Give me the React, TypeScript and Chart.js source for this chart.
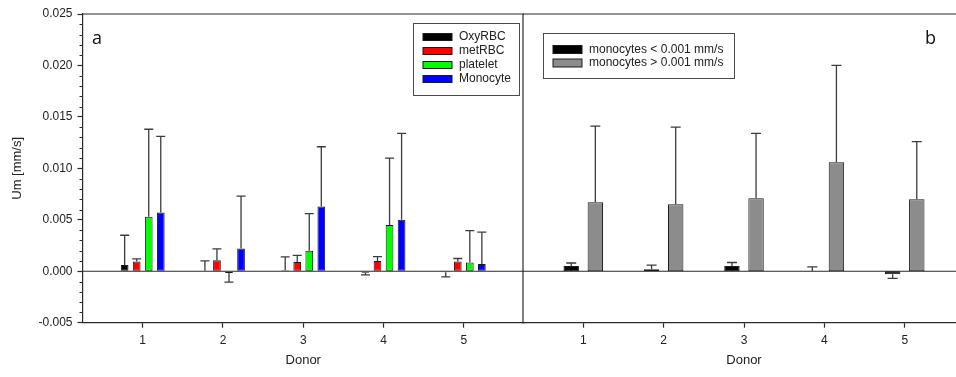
import React, { useEffect, useRef } from 'react';
import { Chart, registerables } from 'chart.js';

Chart.register(...registerables);

// ---------- data ----------
const donors = [1, 2, 3, 4, 5];
const xTickValues = [1, 2, 3, 4, 5];
const yTickLabels = ['-0.005', '0.000', '0.005', '0.010', '0.015', '0.020', '0.025'];

const oxyRBC = [0.0006, 0.00005, 0.0001, -0.00015, -0.0001];
const oxyRBCErr = [0.0029, 0.00095, 0.0013, 0.0002, 0.00045];
const metRBC = [0.00095, 0.00107, 0.0009, 0.001, 0.00094];
const metRBCErr = [0.00025, 0.0011, 0.00065, 0.00043, 0.0003];
const platelet = [0.0053, -0.00016, 0.002, 0.0045, 0.00084];
const plateletErr = [0.0085, 0.0009, 0.0036, 0.0065, 0.0031];
const monocyte = [0.0057, 0.0022, 0.0063, 0.005, 0.0007];
const monocyteErr = [0.0074, 0.0051, 0.0058, 0.0084, 0.0031];

const slowMono = [0.0005, 0.0002, 0.0005, 0.00002, -0.0003];
const slowMonoErr = [0.0003, 0.0004, 0.00035, 0.0004, 0.0004];
const fastMono = [0.0067, 0.0065, 0.0071, 0.0106, 0.007];
const fastMonoErr = [0.0074, 0.0075, 0.0063, 0.0094, 0.0056];

const leftLabels = ['OxyRBC', 'metRBC', 'platelet', 'Monocyte'];
const leftColors = ['#000000', '#ff0000', '#00ff00', '#0000ff'];
const rightLabels = ['monocytes < 0.001 mm/s', 'monocytes > 0.001 mm/s'];
const rightColors = ['#000000', '#8c8c8c'];

// ---------- styling ----------
const FONT = '"Liberation Sans", Arial, sans-serif';
const AXIS = '#2a2a2a';
const TEXT = '#222222';
const Y_MIN = -0.005;
const Y_MAX = 0.025;

const toPts = (vals: number[]) => donors.map((d, i) => ({ x: d, y: vals[i] }));

function makeDataset(label: string, vals: number[], color: string) {
  return {
    label,
    data: toPts(vals),
    backgroundColor: color,
    borderColor: '#1a1a1a',
    borderWidth: 1,
    borderSkipped: false as const,
    categoryPercentage: 0.6,
    barPercentage: 0.64,
  };
}

function errorBarPlugin(errs: number[][], cap: number) {
  return {
    id: 'errbars',
    afterDatasetsDraw(chart: any) {
      const ctx = chart.ctx;
      const ys = chart.scales.y;
      ctx.save();
      ctx.strokeStyle = '#3c3c3c';
      ctx.lineWidth = 1.3;
      chart.data.datasets.forEach((ds: any, i: number) => {
        const meta = chart.getDatasetMeta(i);
        meta.data.forEach((el: any, j: number) => {
          const v = ds.data[j].y;
          const e = errs[i][j];
          const end = v >= 0 ? v + e : v - e;
          const y0 = ys.getPixelForValue(v);
          const y1 = ys.getPixelForValue(end);
          ctx.beginPath();
          ctx.moveTo(el.x, y0);
          ctx.lineTo(el.x, y1);
          ctx.moveTo(el.x - cap / 2, y1);
          ctx.lineTo(el.x + cap / 2, y1);
          ctx.stroke();
        });
      });
      ctx.restore();
    },
  };
}

type LegendSpec = {
  dx: number; // box left relative to chartArea left
  dy: number; // box top relative to chartArea top
  w: number;
  h: number;
  labels: string[];
  colors: string[];
  rowStart: number;
  rowGap: number;
  swH: number;
};

function decorPlugin(opts: {
  side: 'left' | 'right';
  letter: string;
  letterDx: number;
  legend: LegendSpec;
}) {
  return {
    id: 'decor',
    beforeDatasetsDraw(chart: any) {
      const { ctx, chartArea } = chart;
      const ys = chart.scales.y;
      const y0 = ys.getPixelForValue(0);
      ctx.save();
      ctx.strokeStyle = AXIS;
      ctx.lineWidth = 1.2;
      ctx.beginPath();
      ctx.moveTo(chartArea.left, y0);
      ctx.lineTo(chartArea.right, y0);
      ctx.stroke();
      ctx.restore();
    },
    afterDraw(chart: any) {
      const { ctx, chartArea } = chart;
      const ys = chart.scales.y;
      ctx.save();
      ctx.strokeStyle = AXIS;
      ctx.lineWidth = 1.2;
      // top frame line
      ctx.beginPath();
      ctx.moveTo(chartArea.left, chartArea.top);
      ctx.lineTo(chartArea.right, chartArea.top);
      ctx.stroke();
      // divider (drawn once, by the right panel)
      if (opts.side === 'right') {
        ctx.beginPath();
        ctx.moveTo(chartArea.left, chartArea.top);
        ctx.lineTo(chartArea.left, chartArea.bottom);
        ctx.stroke();
      }
      // minor ticks on left axis
      if (opts.side === 'left') {
        ctx.lineWidth = 1;
        for (let k = -4; k <= 24; k++) {
          if (k % 5 === 0) continue;
          const py = Math.round(ys.getPixelForValue(k / 1000)) + 0.5;
          ctx.beginPath();
          ctx.moveTo(chartArea.left, py);
          ctx.lineTo(chartArea.left - 3, py);
          ctx.stroke();
        }
      }
      // legend
      const L = opts.legend;
      const bx = chartArea.left + L.dx;
      const by = chartArea.top + L.dy;
      ctx.fillStyle = '#ffffff';
      ctx.fillRect(bx, by, L.w, L.h);
      ctx.strokeStyle = '#4a4a4a';
      ctx.lineWidth = 1;
      ctx.strokeRect(Math.round(bx) + 0.5, Math.round(by) + 0.5, L.w, L.h);
      ctx.font = `12px ${FONT}`;
      ctx.textBaseline = 'middle';
      ctx.textAlign = 'left';
      L.labels.forEach((lab, i) => {
        const cy = by + L.rowStart + i * L.rowGap;
        ctx.fillStyle = L.colors[i];
        ctx.fillRect(bx + 10, cy - L.swH / 2, 29, L.swH);
        ctx.strokeStyle = '#1a1a1a';
        ctx.strokeRect(bx + 10, cy - L.swH / 2, 29, L.swH);
        ctx.fillStyle = TEXT;
        ctx.fillText(lab, bx + 46, cy);
      });
      // panel letter
      ctx.fillStyle = '#111';
      ctx.font = `18px "Open Sans", ${FONT}`;
      ctx.textBaseline = 'alphabetic';
      ctx.fillText(opts.letter, chartArea.left + opts.letterDx, chartArea.top + 30);
      ctx.restore();
    },
  };
}

function xScale(showTitle: boolean) {
  return {
    type: 'linear' as const,
    min: 0.25,
    max: 5.75,
    offset: false,
    afterBuildTicks: (s: any) => {
      s.ticks = xTickValues.map((v) => ({ value: v }));
    },
    afterFit: (s: any) => {
      s.height = 54.3;
    },
    grid: {
      display: true,
      drawOnChartArea: false,
      drawTicks: true,
      tickLength: 5,
      tickColor: AXIS,
      tickWidth: 1.2,
      offset: false,
    },
    border: { display: true, color: AXIS, width: 1.2 },
    ticks: {
      color: TEXT,
      font: { family: FONT, size: 12 },
      padding: 6,
      callback: (v: any) => String(v),
    },
    title: {
      display: showTitle,
      text: 'Donor',
      color: TEXT,
      font: { family: FONT, size: 13 },
      padding: { top: 0, bottom: 9 },
    },
  };
}

function yScale(show: boolean) {
  return {
    type: 'linear' as const,
    display: show,
    min: Y_MIN,
    max: Y_MAX,
    afterBuildTicks: (s: any) => {
      s.ticks = yTickLabels.map((t) => ({ value: parseFloat(t) }));
    },
    afterFit: (s: any) => {
      s.width = show ? 82.5 : 0;
    },
    grid: {
      display: true,
      drawOnChartArea: false,
      drawTicks: true,
      tickLength: 5,
      tickColor: AXIS,
      tickWidth: 1.2,
    },
    border: { display: true, color: AXIS, width: 1.2 },
    ticks: {
      color: TEXT,
      font: { family: FONT, size: 12 },
      padding: 5,
      callback: (v: any) => {
        const idx = yTickLabels.findIndex((t) => Math.abs(parseFloat(t) - v) < 1e-9);
        return idx >= 0 ? yTickLabels[idx] : '';
      },
    },
    title: {
      display: show,
      text: 'Um [mm/s]',
      color: TEXT,
      font: { family: FONT, size: 13 },
      padding: { top: 10, bottom: 0 },
    },
  };
}

export default function App() {
  const leftRef = useRef<HTMLCanvasElement | null>(null);
  const rightRef = useRef<HTMLCanvasElement | null>(null);

  useEffect(() => {
    if (!leftRef.current || !rightRef.current) return;
    const leftChart = new Chart(leftRef.current, {
      type: 'bar',
      data: {
        datasets: [
          makeDataset(leftLabels[0], oxyRBC, leftColors[0]),
          makeDataset(leftLabels[1], metRBC, leftColors[1]),
          makeDataset(leftLabels[2], platelet, leftColors[2]),
          makeDataset(leftLabels[3], monocyte, leftColors[3]),
        ] as any,
      },
      options: {
        responsive: false,
        animation: false,
        devicePixelRatio: 1,
        layout: { padding: { left: 0, top: 14, right: 6, bottom: 0 } },
        plugins: { legend: { display: false }, tooltip: { enabled: false } },
        scales: { x: xScale(true) as any, y: yScale(true) as any },
      },
      plugins: [
        errorBarPlugin([oxyRBCErr, metRBCErr, plateletErr, monocyteErr], 9),
        decorPlugin({
          side: 'left',
          letter: 'a',
          letterDx: 9.5,
          legend: {
            dx: 330.5,
            dy: 9,
            w: 106,
            h: 72,
            labels: leftLabels,
            colors: leftColors,
            rowStart: 14,
            rowGap: 14,
            swH: 7,
          },
        }),
      ],
    });

    const rightChart = new Chart(rightRef.current, {
      type: 'bar',
      data: {
        datasets: [
          makeDataset(rightLabels[0], slowMono, rightColors[0]),
          makeDataset(rightLabels[1], fastMono, rightColors[1]),
        ] as any,
      },
      options: {
        responsive: false,
        animation: false,
        devicePixelRatio: 1,
        layout: { padding: { left: 6, top: 14, right: 6, bottom: 0 } },
        plugins: { legend: { display: false }, tooltip: { enabled: false } },
        scales: { x: xScale(true) as any, y: yScale(false) as any },
      },
      plugins: [
        errorBarPlugin([slowMonoErr, fastMonoErr], 10),
        decorPlugin({
          side: 'right',
          letter: 'b',
          letterDx: 402,
          legend: {
            dx: 20,
            dy: 19,
            w: 191,
            h: 45,
            labels: rightLabels,
            colors: rightColors,
            rowStart: 16.5,
            rowGap: 13.5,
            swH: 8,
          },
        }),
      ],
    });

    return () => {
      leftChart.destroy();
      rightChart.destroy();
    };
  }, []);

  return (
    <div
      style={{
        position: 'absolute',
        left: 0,
        top: 0,
        width: 956,
        height: 377,
        overflow: 'hidden',
        background: '#ffffff',
      }}
    >
      <canvas
        ref={leftRef}
        width={530}
        height={377}
        style={{ position: 'absolute', left: 0, top: 0, width: 530, height: 377 }}
      />
      <canvas
        ref={rightRef}
        width={454}
        height={377}
        style={{ position: 'absolute', left: 517, top: 0, width: 454, height: 377 }}
      />
    </div>
  );
}
